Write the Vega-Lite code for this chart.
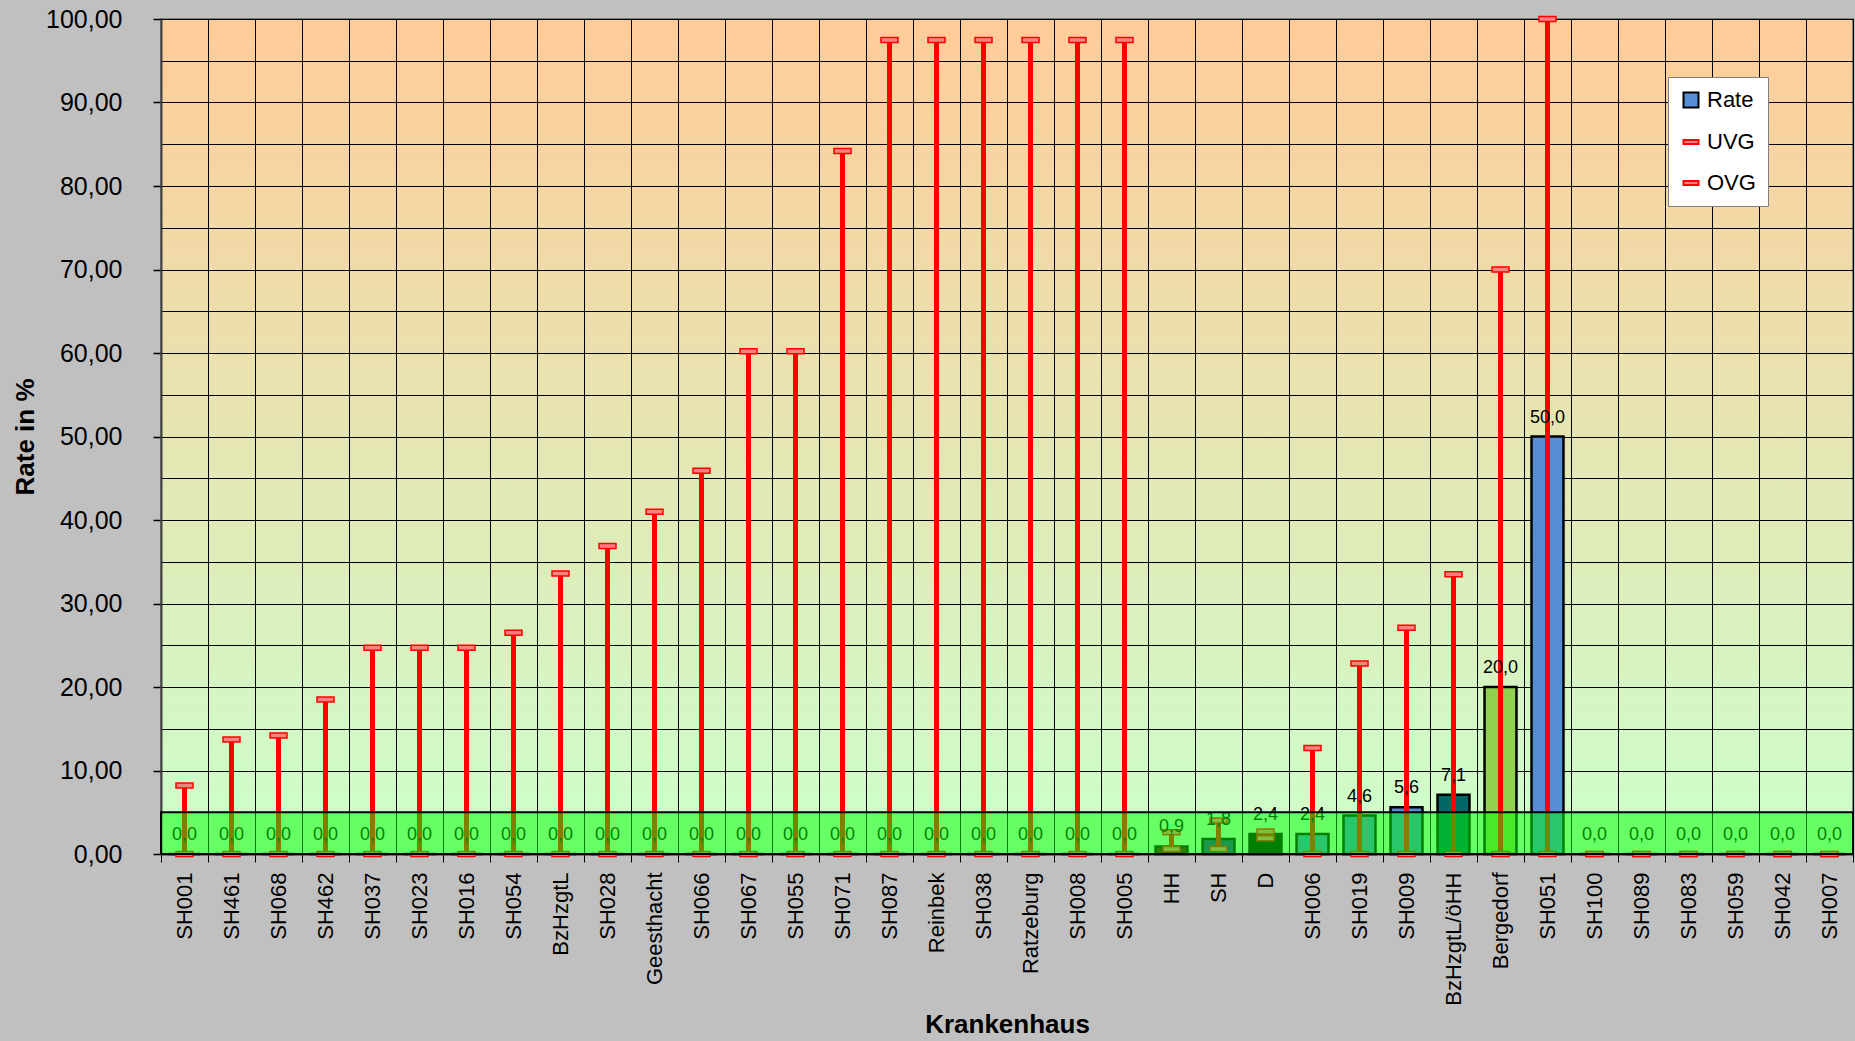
{
  "$schema": "https://vega.github.io/schema/vega-lite/v6.json",
  "width": 1692,
  "height": 835,
  "autosize": {"type": "none"},
  "padding": {"left": 161, "top": 19, "right": 2, "bottom": 187},
  "background": "#C0C0C0",
  "config": {
    "locale": {"number": {"decimal": ",", "thousands": ".", "grouping": [3], "currency": ["", " €"]}},
    "font": "Liberation Sans",
    "view": {
      "fill": {"gradient": "linear", "x1": 0, "y1": 0, "x2": 0, "y2": 1,
        "stops": [{"offset": 0, "color": "#FFCC99"}, {"offset": 1, "color": "#CCFFCC"}]},
      "stroke": "#808080",
      "strokeWidth": 2
    },
    "axisX": {"title": "Krankenhaus", "titleFontSize": 26, "titleFontWeight": "bold", "titleColor": "black",
      "titlePadding": 6, "labelAngle": -90, "labelFontSize": 22, "labelColor": "black", "labelPadding": 10,
      "labelOverlap": false, "labelLimit": 0, "tickSize": 8, "tickColor": "black", "tickWidth": 1,
      "tickBand": "extent", "grid": true, "gridColor": "black", "gridWidth": 1, "gridOpacity": 1,
      "domainColor": "#303030", "domainWidth": 2},
    "axisY": {"titleFontSize": 26, "titleFontWeight": "bold", "titleColor": "black",
      "titlePadding": 7, "labelFontSize": 25, "labelColor": "black", "labelPadding": 31,
      "tickSize": 8, "tickColor": "black", "tickWidth": 1.5,
      "grid": true, "gridColor": "black", "gridWidth": 1, "gridOpacity": 1,
      "domainColor": "#404040", "domainWidth": 2}
  },
  "datasets": {
    "kh": [
      {"Krankenhaus": "SH001", "Rate": 0, "UVG": 0, "OVG": 8.2},
      {"Krankenhaus": "SH461", "Rate": 0, "UVG": 0, "OVG": 13.7},
      {"Krankenhaus": "SH068", "Rate": 0, "UVG": 0, "OVG": 14.2},
      {"Krankenhaus": "SH462", "Rate": 0, "UVG": 0, "OVG": 18.5},
      {"Krankenhaus": "SH037", "Rate": 0, "UVG": 0, "OVG": 24.7},
      {"Krankenhaus": "SH023", "Rate": 0, "UVG": 0, "OVG": 24.7},
      {"Krankenhaus": "SH016", "Rate": 0, "UVG": 0, "OVG": 24.7},
      {"Krankenhaus": "SH054", "Rate": 0, "UVG": 0, "OVG": 26.5},
      {"Krankenhaus": "BzHzgtL", "Rate": 0, "UVG": 0, "OVG": 33.6},
      {"Krankenhaus": "SH028", "Rate": 0, "UVG": 0, "OVG": 36.9},
      {"Krankenhaus": "Geesthacht", "Rate": 0, "UVG": 0, "OVG": 41.0},
      {"Krankenhaus": "SH066", "Rate": 0, "UVG": 0, "OVG": 45.9},
      {"Krankenhaus": "SH067", "Rate": 0, "UVG": 0, "OVG": 60.2},
      {"Krankenhaus": "SH055", "Rate": 0, "UVG": 0, "OVG": 60.2},
      {"Krankenhaus": "SH071", "Rate": 0, "UVG": 0, "OVG": 84.2},
      {"Krankenhaus": "SH087", "Rate": 0, "UVG": 0, "OVG": 97.5},
      {"Krankenhaus": "Reinbek", "Rate": 0, "UVG": 0, "OVG": 97.5},
      {"Krankenhaus": "SH038", "Rate": 0, "UVG": 0, "OVG": 97.5},
      {"Krankenhaus": "Ratzeburg", "Rate": 0, "UVG": 0, "OVG": 97.5},
      {"Krankenhaus": "SH008", "Rate": 0, "UVG": 0, "OVG": 97.5},
      {"Krankenhaus": "SH005", "Rate": 0, "UVG": 0, "OVG": 97.5},
      {"Krankenhaus": "HH", "Rate": 0.9, "UVG": 0.6, "OVG": 2.6},
      {"Krankenhaus": "SH", "Rate": 1.8, "UVG": 0.6, "OVG": 4.0},
      {"Krankenhaus": "D", "Rate": 2.4, "UVG": 1.9, "OVG": 2.7},
      {"Krankenhaus": "SH006", "Rate": 2.4, "UVG": 0, "OVG": 12.7},
      {"Krankenhaus": "SH019", "Rate": 4.6, "UVG": 0, "OVG": 22.8},
      {"Krankenhaus": "SH009", "Rate": 5.6, "UVG": 0, "OVG": 27.1},
      {"Krankenhaus": "BzHzgtL/öHH", "Rate": 7.1, "UVG": 0, "OVG": 33.5},
      {"Krankenhaus": "Bergedorf", "Rate": 20.0, "UVG": 0, "OVG": 70.0},
      {"Krankenhaus": "SH051", "Rate": 50.0, "UVG": 0, "OVG": 100},
      {"Krankenhaus": "SH100", "Rate": 0, "UVG": 0, "OVG": 0},
      {"Krankenhaus": "SH089", "Rate": 0, "UVG": 0, "OVG": 0},
      {"Krankenhaus": "SH083", "Rate": 0, "UVG": 0, "OVG": 0},
      {"Krankenhaus": "SH059", "Rate": 0, "UVG": 0, "OVG": 0},
      {"Krankenhaus": "SH042", "Rate": 0, "UVG": 0, "OVG": 0},
      {"Krankenhaus": "SH007", "Rate": 0, "UVG": 0, "OVG": 0}
    ],
    "zielbereich": [{"Bereich": "Referenzbereich", "von": 0, "bis": 5}]
  },
  "data": {"name": "kh"},
  "layer": [
    {
      "mark": {"type": "bar", "width": {"band": 0.68}, "stroke": "black", "strokeWidth": 2.5},
      "encoding": {
        "x": {"field": "Krankenhaus", "type": "nominal", "sort": null, "title": "Krankenhaus",
          "scale": {"domain": ["SH001", "SH461", "SH068", "SH462", "SH037", "SH023", "SH016", "SH054", "BzHzgtL", "SH028", "Geesthacht", "SH066", "SH067", "SH055", "SH071", "SH087", "Reinbek", "SH038", "Ratzeburg", "SH008", "SH005", "HH", "SH", "D", "SH006", "SH019", "SH009", "BzHzgtL/öHH", "Bergedorf", "SH051", "SH100", "SH089", "SH083", "SH059", "SH042", "SH007"],
            "paddingInner": 0, "paddingOuter": 0}},
        "y": {"field": "Rate", "type": "quantitative", "title": "Rate in %",
          "scale": {"domain": [0, 100], "nice": false, "zero": true},
          "axis": {
            "values": [0, 5, 10, 15, 20, 25, 30, 35, 40, 45, 50, 55, 60, 65, 70, 75, 80, 85, 90, 95, 100],
            "format": ".2f",
            "labelExpr": "datum.value % 10 === 0 ? datum.label : ''",
            "tickOpacity": {"condition": {"test": "datum.value % 10 === 0", "value": 1}, "value": 0}}},
        "color": {"field": "Krankenhaus", "type": "nominal",
          "scale": {"domain": ["HH", "SH", "D", "SH006", "SH019", "SH009", "BzHzgtL/öHH", "Bergedorf", "SH051"],
            "range": ["#5A0000", "#333399", "#000000", "#558ED5", "#558ED5", "#558ED5", "#006666", "#92D050", "#558ED5"],
            "unknown": "#558ED5"},
          "legend": null}
      }
    },
    {
      "mark": {"type": "rule", "color": "#FF0000", "strokeWidth": 5},
      "encoding": {
        "x": {"field": "Krankenhaus", "type": "nominal", "sort": null, "title": "Krankenhaus"},
        "y": {"field": "UVG", "type": "quantitative", "title": "Rate in %"},
        "y2": {"field": "OVG"}
      }
    },
    {
      "mark": {"type": "tick", "orient": "horizontal", "size": 17, "thickness": 5, "fill": "#FF8080", "stroke": "#FF0000", "strokeWidth": 1.5, "opacity": 1},
      "encoding": {
        "x": {"field": "Krankenhaus", "type": "nominal", "sort": null, "title": "Krankenhaus"},
        "y": {"field": "OVG", "type": "quantitative", "title": "Rate in %"}
      }
    },
    {
      "mark": {"type": "tick", "orient": "horizontal", "size": 17, "thickness": 5, "fill": "#FF8080", "stroke": "#FF0000", "strokeWidth": 1.5, "opacity": 1},
      "encoding": {
        "x": {"field": "Krankenhaus", "type": "nominal", "sort": null, "title": "Krankenhaus"},
        "y": {"field": "UVG", "type": "quantitative", "title": "Rate in %"}
      }
    },
    {
      "mark": {"type": "text", "baseline": "alphabetic", "align": "center", "dy": -14, "fontSize": 18, "color": "black"},
      "encoding": {
        "x": {"field": "Krankenhaus", "type": "nominal", "sort": null, "title": "Krankenhaus"},
        "y": {"field": "Rate", "type": "quantitative", "title": "Rate in %"},
        "text": {"field": "Rate", "type": "quantitative", "format": ".1f"}
      }
    },
    {
      "data": {"name": "zielbereich"},
      "mark": {"type": "rect", "fill": "#00FF00", "fillOpacity": 0.5, "stroke": "black", "strokeWidth": 2},
      "encoding": {
        "y": {"field": "von", "type": "quantitative", "title": "Rate in %"},
        "y2": {"field": "bis"}
      }
    },
    {
      "transform": [{"fold": ["Rate", "UVG", "OVG"], "as": ["Serie", "Wert"]}],
      "mark": {"type": "point", "opacity": 0, "filled": true, "strokeWidth": 2},
      "encoding": {
        "x": {"field": "Krankenhaus", "type": "nominal", "sort": null, "title": "Krankenhaus"},
        "y": {"field": "Wert", "type": "quantitative", "title": "Rate in %"},
        "fill": {"field": "Serie", "type": "nominal", "title": null,
          "scale": {"domain": ["Rate", "UVG", "OVG"], "range": ["#558ED5", "#FF8080", "#FF8080"]},
          "legend": {"orient": "none", "legendX": 1507, "legendY": 58,
            "fillColor": "white", "strokeColor": "#808080", "padding": 12,
            "labelFontSize": 22, "labelColor": "black", "labelOffset": 5, "rowPadding": 19,
            "symbolSize": 225, "symbolStrokeWidth": 2,
            "encode": {"symbols": {"update": {"fill": {"scale": "fill", "field": "value"}, "fillOpacity": {"value": 1}, "stroke": {"scale": "stroke", "field": "value"}, "strokeOpacity": {"value": 1}}}}}},
        "stroke": {"field": "Serie", "type": "nominal", "title": null,
          "scale": {"domain": ["Rate", "UVG", "OVG"], "range": ["#000000", "#FF0000", "#FF0000"]},
          "legend": {"orient": "none", "legendX": 1507, "legendY": 58,
            "encode": {"symbols": {"update": {"fill": {"scale": "fill", "field": "value"}, "fillOpacity": {"value": 1}, "stroke": {"scale": "stroke", "field": "value"}, "strokeOpacity": {"value": 1}}}}}},
        "shape": {"field": "Serie", "type": "nominal", "title": null,
          "scale": {"domain": ["Rate", "UVG", "OVG"], "range": ["square", "M-1,-0.28H1V0.28H-1Z", "M-1,-0.28H1V0.28H-1Z"]},
          "legend": {"orient": "none", "legendX": 1507, "legendY": 58,
            "encode": {"symbols": {"update": {"fill": {"scale": "fill", "field": "value"}, "fillOpacity": {"value": 1}, "stroke": {"scale": "stroke", "field": "value"}, "strokeOpacity": {"value": 1}}}}}}
      }
    }
  ]
}
